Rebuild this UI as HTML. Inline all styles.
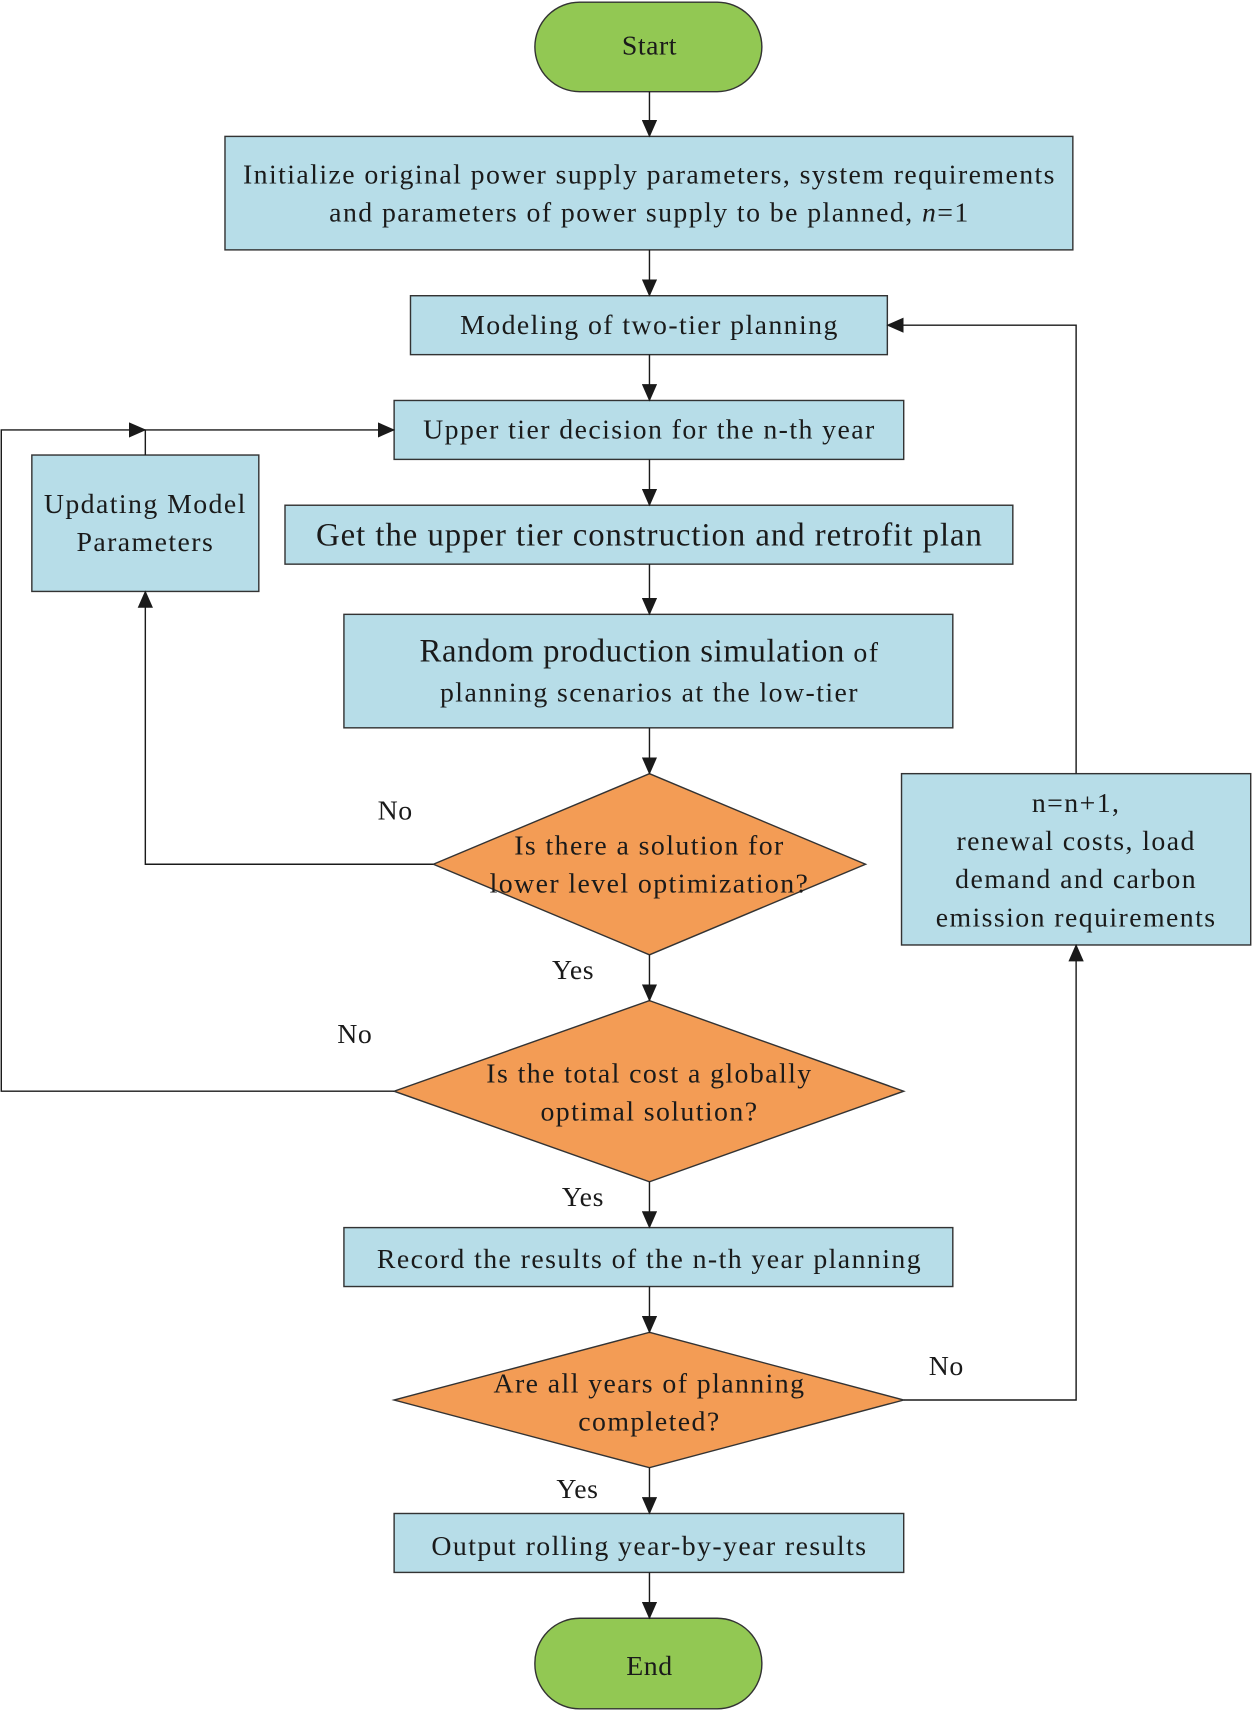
<!DOCTYPE html>
<html><head><meta charset="utf-8"><style>
html,body{margin:0;padding:0;background:#fff;}
svg{display:block;}
text{font-family:"Liberation Serif",serif;fill:#1a1a1a;text-anchor:middle;}
</style></head><body>
<svg width="1252" height="1711" viewBox="0 0 1147 1568" xmlns="http://www.w3.org/2000/svg">
<defs>
<marker id="b" markerWidth="16" markerHeight="14" refX="15" refY="7" orient="auto" markerUnits="userSpaceOnUse"><path d="M0,0 L16,7 L0,14 z" fill="#1a1a1a"/></marker></defs>
<g stroke="#333" stroke-width="1.3">
<rect x="490" y="2" width="208" height="82" rx="41" fill="#92c853"/>
<rect x="206" y="125" width="777" height="104" fill="#b7dde8"/>
<rect x="376" y="271" width="437" height="54" fill="#b7dde8"/>
<rect x="361" y="367" width="467" height="54" fill="#b7dde8"/>
<rect x="261" y="463" width="667" height="54" fill="#b7dde8"/>
<rect x="315" y="563" width="558" height="104" fill="#b7dde8"/>
<polygon points="595,709 793,792 595,875 397,792" fill="#f39c55"/>
<polygon points="595,917 828,1000 595,1083 361,1000" fill="#f39c55"/>
<rect x="315" y="1125" width="558" height="54" fill="#b7dde8"/>
<polygon points="595,1221 828,1283 595,1345 361,1283" fill="#f39c55"/>
<rect x="361" y="1387" width="467" height="54" fill="#b7dde8"/>
<rect x="490" y="1483" width="208" height="83" rx="41" fill="#92c853"/>
<rect x="29" y="417" width="208" height="125" fill="#b7dde8"/>
<rect x="826" y="709" width="320" height="157" fill="#b7dde8"/>
</g>
<g stroke="#1a1a1a" stroke-width="1.3" fill="none">
<line x1="595" y1="84" x2="595" y2="125" marker-end="url(#b)"/>
<line x1="595" y1="229" x2="595" y2="271" marker-end="url(#b)"/>
<line x1="595" y1="325" x2="595" y2="367" marker-end="url(#b)"/>
<line x1="595" y1="421" x2="595" y2="463" marker-end="url(#b)"/>
<line x1="595" y1="517" x2="595" y2="563" marker-end="url(#b)"/>
<line x1="595" y1="667" x2="595" y2="709" marker-end="url(#b)"/>
<line x1="595" y1="875" x2="595" y2="917" marker-end="url(#b)"/>
<line x1="595" y1="1083" x2="595" y2="1125" marker-end="url(#b)"/>
<line x1="595" y1="1179" x2="595" y2="1221" marker-end="url(#b)"/>
<line x1="595" y1="1345" x2="595" y2="1387" marker-end="url(#b)"/>
<line x1="595" y1="1441" x2="595" y2="1483" marker-end="url(#b)"/>
<polyline points="397,792 133,792 133,542" marker-end="url(#b)"/>
<polyline points="133,417 133,394 361,394" marker-end="url(#b)"/>
<polyline points="361,1000 1,1000 1,394 133,394" marker-end="url(#b)"/>
<polyline points="828,1283 986,1283 986,866" marker-end="url(#b)"/>
<polyline points="986,709 986,298 813,298" marker-end="url(#b)"/>
</g>
<g font-size="25.5" letter-spacing="1.3">
<text x="595" y="168">Initialize original power supply parameters, system requirements</text>
<text x="595" y="203">and parameters of power supply to be planned, <tspan font-style="italic">n</tspan>=1</text>
<text x="595" y="306">Modeling of two-tier planning</text>
<text x="595" y="402">Upper tier decision for the n-th year</text>
<text x="595" y="500" font-size="30" letter-spacing="0.9">Get the upper tier construction and retrofit plan</text>
<text x="595" y="606"><tspan font-size="30" letter-spacing="0.6">Random production simulation</tspan> of</text>
<text x="595" y="643">planning scenarios at the low-tier</text>
<text x="595" y="783">Is there a solution for</text>
<text x="595" y="818">lower level optimization?</text>
<text x="595" y="992">Is the total cost a globally</text>
<text x="595" y="1027">optimal solution?</text>
<text x="595" y="1162">Record the results of the n-th year planning</text>
<text x="595" y="1276">Are all years of planning</text>
<text x="595" y="1311">completed?</text>
<text x="595" y="1425">Output rolling year-by-year results</text>
<text x="133" y="470">Updating Model</text>
<text x="133" y="505">Parameters</text>
<text x="986" y="744">n=n+1,</text>
<text x="986" y="779">renewal costs, load</text>
<text x="986" y="814">demand and carbon</text>
<text x="986" y="849">emission requirements</text>
</g>
<g font-size="25.5" letter-spacing="0.5">
<text x="595" y="50">Start</text>
<text x="595" y="1535">End</text>
<text x="362" y="751">No</text>
<text x="525" y="897">Yes</text>
<text x="325" y="956">No</text>
<text x="534" y="1105">Yes</text>
<text x="867" y="1260">No</text>
<text x="529" y="1373">Yes</text>
</g>
</svg>
</body></html>
